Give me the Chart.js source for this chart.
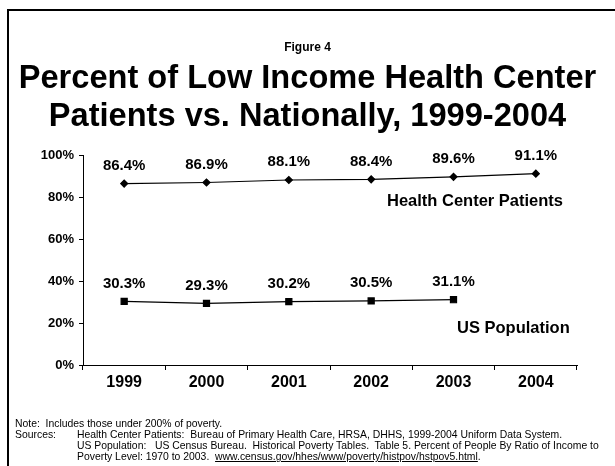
<!DOCTYPE html>
<html>
<head>
<meta charset="utf-8">
<script src="https://cdn.jsdelivr.net/npm/chart.js@4/dist/chart.umd.min.js"></script>
<style>
  body { margin: 0; background: #fff; }
  #wrap { position: relative; width: 615px; height: 466px; overflow: hidden; font-family: Arial, "Liberation Sans", sans-serif; color: #000; }
  #frame { position: absolute; left: 7px; top: 9px; width: 620px; height: 470px; border-left: 2px solid #000; border-top: 2px solid #000; }
  #chart { position: absolute; left: 0; top: 0; }
  .t { position: absolute; white-space: pre; }
  #fig { left: 0; width: 615px; text-align: center; top: 40px; font-size: 12px; font-weight: bold; }
  #title { left: 0; width: 615px; text-align: center; top: 58px; font-size: 32.6px; font-weight: bold; line-height: 38px; }
  .series { font-size: 16.5px; font-weight: bold; }
  .note { font-size: 10.4px; line-height: 11px; }
  .note a { color: #000; text-decoration: underline; }
</style>
</head>
<body>
<div id="wrap">
  <div id="frame"></div>
  <canvas id="chart" width="615" height="466"></canvas>
  <div class="t" id="fig">Figure 4</div>
  <div class="t" id="title">Percent of Low Income Health Center<br>Patients vs. Nationally, 1999-2004</div>
  <div class="t series" style="left:387px; top:191px;">Health Center Patients</div>
  <div class="t series" style="left:457px; top:318px;">US Population</div>
  <div class="t note" style="left:15px; top:418px;">Note:  Includes those under 200% of poverty.</div>
  <div class="t note" style="left:15px; top:429px;">Sources:</div>
  <div class="t note" style="left:77px; top:429px;">Health Center Patients:  Bureau of Primary Health Care, HRSA, DHHS, 1999-2004 Uniform Data System.
US Population:   US Census Bureau.  Historical Poverty Tables.  Table 5. Percent of People By Ratio of Income to
Poverty Level: 1970 to 2003.  <a>www.census.gov/hhes/www/poverty/histpov/hstpov5.html</a>.</div>
</div>
<script>
var years = ['1999', '2000', '2001', '2002', '2003', '2004'];
var healthCenter = [86.4, 86.9, 88.1, 88.4, 89.6, 91.1];
var usPopulation = [30.3, 29.3, 30.2, 30.5, 31.1, null];
var yTicks = [0, 20, 40, 60, 80, 100];

// value labels above each point
var pointLabels = {
  id: 'pointLabels',
  afterDatasetsDraw: function(chart) {
    var ctx = chart.ctx;
    ctx.save();
    ctx.font = 'bold 15px Arial, "Liberation Sans", sans-serif';
    ctx.fillStyle = '#000';
    ctx.textAlign = 'center';
    ctx.textBaseline = 'middle';
    chart.data.datasets.forEach(function(ds, i) {
      var meta = chart.getDatasetMeta(i);
      meta.data.forEach(function(pt, j) {
        if (ds.data[j] == null) return;
        ctx.fillText(ds.data[j].toFixed(1) + '%', pt.x, pt.y - 18);
      });
    });
    ctx.restore();
  }
};

var ctx = document.getElementById('chart').getContext('2d');
var chart = new Chart(ctx, {
  type: 'line',
  data: {
    labels: years,
    datasets: [{
      label: 'Health Center Patients',
      data: healthCenter,
      borderColor: '#000',
      backgroundColor: '#000',
      borderWidth: 1.2,
      pointStyle: 'rectRot',
      pointRadius: 3.5,
      tension: 0
    }, {
      label: 'US Population',
      data: usPopulation,
      borderColor: '#000',
      backgroundColor: '#000',
      borderWidth: 1.2,
      pointStyle: 'rect',
      pointRadius: 4.3,
      tension: 0
    }]
  },
  options: {
    responsive: false,
    animation: false,
    layout: { padding: { left: 33, right: 38, top: 155, bottom: 71 } },
    plugins: { legend: { display: false }, tooltip: { enabled: false } },
    scales: {
      x: {
        offset: true,
        grid: { offset: true, drawOnChartArea: false, color: '#000', tickLength: 5 },
        border: { color: '#000', width: 1 },
        ticks: { color: '#000', padding: 3, font: { family: 'Arial, "Liberation Sans", sans-serif', size: 16, weight: 'bold' } },
        afterFit: function(s) { s.height = 30; }
      },
      y: {
        min: 0,
        max: 100,
        afterBuildTicks: function(s) { s.ticks = yTicks.map(function(v) { return { value: v }; }); },
        grid: { drawOnChartArea: false, color: '#000', tickLength: 4 },
        border: { color: '#000', width: 1 },
        ticks: {
          color: '#000',
          padding: 5,
          font: { family: 'Arial, "Liberation Sans", sans-serif', size: 13, weight: 'bold' },
          callback: function(v) { return v + '%'; }
        },
        afterFit: function(s) { s.width = 50; }
      }
    }
  },
  plugins: [pointLabels]
});
</script>
</body>
</html>
